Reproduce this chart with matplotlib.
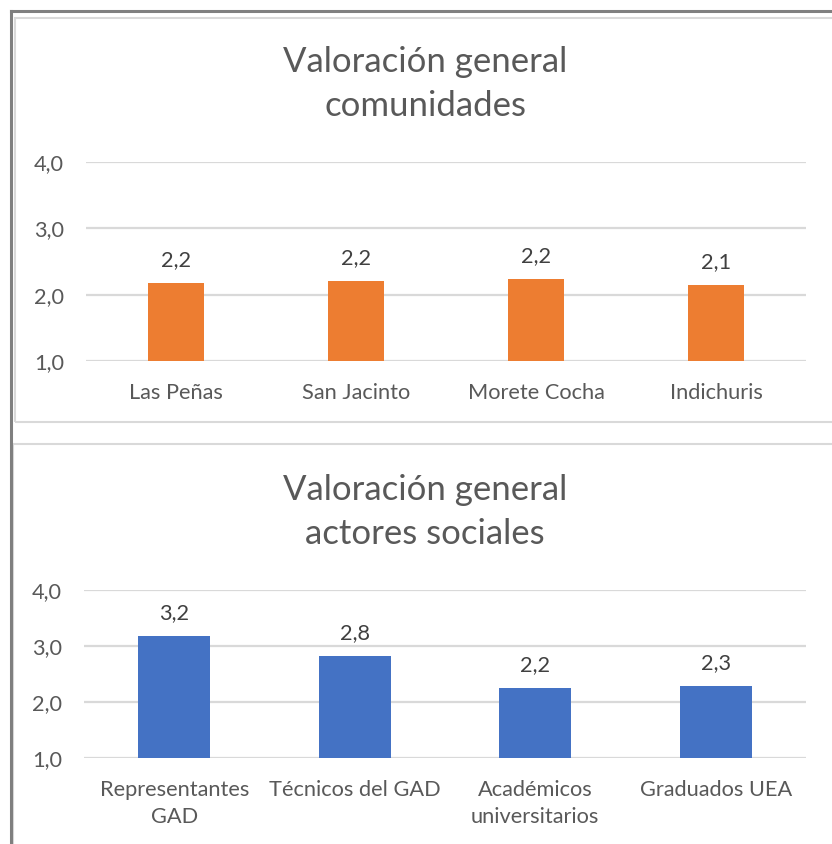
import matplotlib
matplotlib.use("Agg")
from matplotlib import pyplot as plt
from matplotlib.patches import Rectangle
from matplotlib.lines import Line2D

plt.rcParams['font.family'] = ['Lato', 'DejaVu Sans']

W, H = 832, 844

comunidades = ["Las Peñas", "San Jacinto", "Morete Cocha", "Indichuris"]
val_comunidades = [2.18, 2.21, 2.24, 2.15]

actores = ["Representantes\nGAD", "Técnicos del GAD", "Académicos\nuniversitarios", "Graduados UEA"]
val_actores = [3.18, 2.82, 2.25, 2.29]

yticks = [1.0, 2.0, 3.0, 4.0]

TEXT = "#595959"
LABEL = "#404040"
GRID = "#D9D9D9"


def px_axes(fig, x0, x1, y_top, y_bot):
    return fig.add_axes([x0 / W, 1 - y_bot / H, (x1 - x0) / W, (y_bot - y_top) / H])


def fmt(v):
    return f"{v:.1f}".replace(".", ",")


def draw_chart(ax, cats, vals, color, width, title, title_y):
    x = list(range(len(cats)))
    bars = ax.bar(x, vals, width=width, color=color, zorder=3, bottom=0)
    ax.set_xlim(-0.5, len(cats) - 0.5)
    ax.set_ylim(1.0, 4.0)
    ax.set_yticks(yticks)
    ax.set_yticklabels([fmt(t) for t in yticks])
    ax.set_xticks(x)
    ax.set_xticklabels(cats, linespacing=1.45)
    for s in ax.spines.values():
        s.set_visible(False)
    ax.grid(axis="y", color=GRID, linewidth=1.6, zorder=0)
    ax.tick_params(axis="both", length=0, labelsize=15.7, colors=TEXT)
    ax.tick_params(axis="y", pad=16)
    ax.tick_params(axis="x", pad=16)
    for b, v in zip(bars, vals):
        ax.annotate(fmt(v), (b.get_x() + b.get_width() / 2, v), xytext=(0, 9),
                    textcoords="offset points", ha="center", va="bottom",
                    fontsize=15.7, color=LABEL)
    ax.figure.text(425 / W, 1 - title_y / H, title, ha="center", va="center",
                   fontsize=25, color=TEXT, linespacing=1.45)


fig = plt.figure(figsize=(W / 100, H / 100), dpi=100)

# chart frames
fig.add_artist(Rectangle((15 / W, 1 - 422 / H), 830 / W, 404 / H, transform=fig.transFigure,
                         fill=False, edgecolor=GRID, linewidth=1.5))
fig.add_artist(Rectangle((13 / W, 1 - 860 / H), 830 / W, 416 / H, transform=fig.transFigure,
                         fill=False, edgecolor=GRID, linewidth=1.5))
# outer frame
fig.add_artist(Line2D([11 / W, 1.0], [1 - 11 / H, 1 - 11 / H], transform=fig.transFigure,
                      color="#7F7F7F", linewidth=2.2))
fig.add_artist(Line2D([11 / W, 11 / W], [1 - 11 / H, 0.0], transform=fig.transFigure,
                      color="#7F7F7F", linewidth=2.2))

ax1 = px_axes(fig, 86, 806, 162, 361)
draw_chart(ax1, comunidades, val_comunidades, "#ED7D31", 0.31,
           "Valoración general\ncomunidades", 84)

ax2 = px_axes(fig, 84, 806, 590, 758)
draw_chart(ax2, actores, val_actores, "#4472C4", 0.40,
           "Valoración general\nactores sociales", 512)

fig.savefig("out.png", dpi=100)
